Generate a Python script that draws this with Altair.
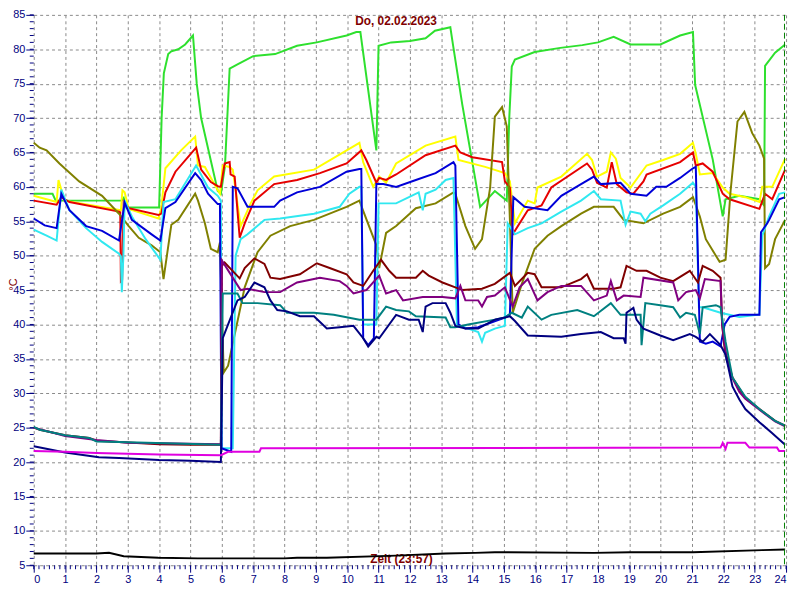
import altair as alt
import pandas as pd

# ---------------- data (hour, °C) ----------------
green = [(0, 59), (0.6, 59), (0.7, 58), (2.8, 58), (2.87, 58.4), (2.95, 57), (4.0, 57), (4.08, 70),
         (4.15, 76.5), (4.29, 79.3), (4.39, 79.7), (4.61, 80), (4.83, 80.7), (5.08, 82), (5.2, 75),
         (5.34, 70), (5.87, 59.4), (5.97, 59), (6.1, 63), (6.25, 77.2), (6.5, 77.8), (7.0, 79),
         (7.7, 79.3), (8.4, 80.5), (9.03, 81), (9.98, 82), (10.29, 82.5), (10.42, 82.5), (10.93, 65.3),
         (11.0, 80.5), (11.4, 81), (12.0, 81.2), (12.5, 81.6), (12.8, 82.7), (13.29, 83.2), (13.38, 80.5),
         (13.67, 72), (14.24, 57.1), (14.71, 59.4), (15.09, 58), (15.17, 70), (15.25, 77.5), (15.35, 78.5),
         (15.98, 79.6), (16.8, 80.2), (17.5, 80.6), (18.0, 81), (18.5, 81.8), (19.04, 80.7), (19.99, 80.7),
         (20.62, 82), (21.03, 82.5), (21.1, 74.8), (21.66, 64), (21.98, 55.7), (22.07, 58.2), (22.51, 58.7),
         (23.15, 58.2), (23.3, 57.3), (23.33, 77.6), (23.65, 79.5), (23.97, 80.7)]

yellow = [(0, 58.7), (0.73, 57.8), (0.79, 61), (0.98, 58), (1.5, 57.6), (2.78, 56.6), (2.83, 59.5),
          (2.9, 59.2), (3.03, 56.8), (3.98, 55.4), (4.07, 57), (4.2, 62.7), (4.7, 65.3), (5.15, 67.3),
          (5.24, 63.1), (5.46, 62.9), (5.81, 60), (5.94, 59), (6.03, 63.1), (6.25, 62.9), (6.35, 62.5),
          (6.6, 54.3), (6.92, 57.6), (7.14, 59.5), (7.67, 61.5), (8.94, 62.5), (10.39, 66.4), (10.51, 63.6),
          (10.83, 60), (11.02, 61.5), (11.24, 60.6), (11.56, 63.4), (12.5, 66), (13.45, 67.3), (13.55, 63.9),
          (14.4, 62.9), (15.03, 62), (15.19, 60.8), (15.35, 54.7), (15.76, 58), (15.98, 57.6), (16.07, 59.9),
          (16.83, 61.5), (17.65, 64.8), (17.81, 63.9), (17.97, 61.5), (18.28, 62.2), (18.41, 65), (18.57, 64.1),
          (18.72, 61.3), (19.04, 59.9), (19.55, 63.1), (20.08, 63.9), (20.62, 64.8), (21.03, 66.4),
          (21.12, 64.8), (21.25, 61.8), (21.66, 62), (21.98, 59.9), (22.2, 59), (22.7, 58.5), (23.15, 57.8),
          (23.24, 60), (23.56, 60), (23.97, 64.1)]

red = [(0, 58), (0.73, 57.4), (0.88, 58.5), (1.14, 57.8), (2.72, 56.4), (2.76, 56.3), (2.78, 46.3),
       (2.82, 46.5), (2.87, 57.8), (3.03, 56.9), (3.98, 55.9), (4.07, 56.1), (4.2, 59.2), (4.52, 62.2),
       (5.18, 65.7), (5.34, 62.5), (5.65, 60.7), (5.87, 60.1), (5.97, 60), (6.09, 63.4), (6.25, 63.6),
       (6.28, 61.8), (6.41, 61.5), (6.57, 52.6), (6.73, 54.7), (7.04, 58), (7.67, 60.4), (8.4, 61),
       (9.13, 62), (9.98, 63.4), (10.45, 65.3), (10.61, 63.9), (10.93, 60.6), (11.02, 61.3), (11.24, 61),
       (11.56, 61.8), (12.5, 64.6), (13.45, 66), (13.61, 65), (13.99, 64.3), (14.94, 63.6), (15.03, 60.8),
       (15.19, 59.9), (15.28, 53.1), (15.76, 56.6), (16.2, 57.3), (16.51, 59.9), (17.65, 63.4), (17.81, 62.5),
       (17.97, 60.6), (18.28, 59.9), (18.44, 63.6), (18.6, 60.4), (18.91, 59.2), (19.13, 59), (19.45, 60.8),
       (19.55, 61.8), (20.62, 63.6), (21.03, 65), (21.12, 63.1), (21.34, 63.4), (21.66, 62.2), (21.98, 59),
       (22.2, 58.2), (23.15, 56.8), (23.33, 59), (23.56, 58.2), (23.97, 62.5)]

olive = [(0, 66.4), (0.19, 65.7), (0.41, 65.3), (0.82, 63.4), (1.45, 60.8), (2.18, 58.7), (2.72, 56.1),
         (3.03, 54.3), (3.35, 52.6), (3.76, 51.5), (4.04, 50.5), (4.14, 46.6), (4.39, 54.5), (4.61, 55.2),
         (5.15, 59), (5.24, 58), (5.46, 54.7), (5.65, 51), (5.87, 50.5), (5.94, 51.9), (6.06, 33), (6.2, 34),
         (6.73, 45.4), (7.14, 50.5), (7.55, 52.9), (8.18, 54.3), (8.94, 55.2), (9.98, 57.1), (10.39, 58),
         (10.51, 56.5), (10.93, 51.5), (11.02, 48.2), (11.24, 53.3), (11.56, 54.3), (12.19, 56.9),
         (12.82, 57.6), (13.39, 59.2), (13.45, 59), (13.77, 54.3), (14.08, 51), (14.3, 52.4), (14.56, 59.9),
         (14.71, 70.2), (14.94, 71.6), (15.09, 68.8), (15.19, 55.2), (15.28, 41.7), (15.57, 45.9),
         (15.98, 51), (16.39, 52.9), (16.83, 54.3), (17.46, 56.1), (17.87, 57.1), (18.5, 57.1), (18.82, 55.2),
         (19.45, 54.7), (20.08, 56.1), (20.62, 57.1), (21.03, 58.5), (21.25, 55.7), (21.44, 52.4),
         (21.88, 49.1), (22.07, 49.4), (22.23, 59.4), (22.45, 69.5), (22.67, 70.9), (22.92, 67.8),
         (23.15, 66), (23.3, 64.1), (23.33, 48.2), (23.46, 48.8), (23.65, 52.4), (23.97, 55.2)]

cyan = [(0, 53.8), (0.41, 52.9), (0.73, 52.2), (0.88, 59.6), (1.14, 56.6), (1.67, 54), (2.18, 52),
        (2.72, 50.3), (2.78, 49.9), (2.81, 44.7), (2.86, 50), (2.9, 58), (3.13, 55.7), (3.57, 52.4),
        (4.04, 49.4), (4.14, 57.8), (4.52, 58.2), (5.18, 63.1), (5.56, 59.9), (5.87, 58.7), (5.97, 58),
        (6.0, 22), (6.35, 22), (6.44, 50), (6.6, 52.4), (6.82, 53.1), (7.36, 55.2), (7.86, 55.4), (8.94, 56.1),
        (9.76, 57.1), (10.07, 59), (10.39, 60), (10.45, 60), (10.51, 40), (10.93, 40), (11.0, 57.6),
        (11.56, 57.6), (11.97, 58.5), (12.28, 59.2), (12.41, 56.6), (12.5, 59), (12.82, 59.6), (13.14, 61),
        (13.39, 61.3), (13.5, 40), (13.61, 39.8), (14.18, 38.9), (14.3, 37.5), (14.4, 38.8), (14.71, 39.4),
        (15.03, 39.8), (15.12, 54.7), (15.35, 53.1), (15.76, 54), (16.2, 54.7), (16.83, 56.4), (17.46, 58),
        (17.87, 59.4), (18.09, 58.2), (18.72, 58), (18.88, 54.5), (19.04, 56.4), (19.36, 56.1), (19.51, 55),
        (19.67, 56.1), (20.08, 57.3), (20.62, 59), (21.03, 60.6), (21.12, 60), (21.22, 42.5), (21.34, 42.5),
        (21.91, 41.7), (22.51, 41.1), (23.08, 41.4), (23.15, 41.4), (23.24, 52.9), (23.46, 55.7),
        (23.78, 59), (23.97, 59.2)]

blue = [(0, 55.4), (0.35, 54.4), (0.73, 54), (0.88, 59), (1.14, 56.6), (1.67, 54.3), (2.18, 53.6),
        (2.72, 52.2), (2.9, 57.7), (3.13, 55.2), (3.76, 53.1), (4.04, 52.2), (4.2, 56.9), (4.52, 57.8),
        (5.15, 62), (5.34, 61), (5.56, 59), (5.87, 57.5), (5.94, 57.5), (5.99, 22), (6.3, 21.5), (6.35, 60),
        (6.5, 59.8), (6.82, 57.1), (7.67, 57.1), (7.86, 58), (8.4, 59.2), (9.13, 60), (9.98, 62.2),
        (10.39, 62.6), (10.45, 62.6), (10.51, 38), (10.67, 37), (10.85, 38), (10.93, 60.4), (11.15, 60.4),
        (11.56, 60), (12.19, 61), (12.82, 62), (13.39, 63.6), (13.45, 63.1), (13.55, 40), (13.77, 39.4),
        (14.18, 39.6), (15.03, 41), (15.19, 41.5), (15.3, 58.5), (15.66, 57.1), (16.39, 56.6), (16.83, 58.7),
        (17.46, 60.4), (17.87, 61.5), (18.09, 60.4), (18.72, 60.6), (19.04, 59), (19.55, 58.7), (19.86, 60),
        (20.18, 60), (20.62, 61.3), (21.03, 62.7), (21.12, 62.9), (21.25, 37.5), (21.44, 37.2),
        (21.66, 37.5), (21.91, 36.8), (22.04, 40), (22.2, 41.1), (22.51, 41.4), (23.15, 41.4), (23.2, 53.4),
        (23.4, 54.7), (23.46, 55.2), (23.78, 58.2), (23.97, 58.5)]

maroon = [(0, 25), (0.19, 24.7), (1.0, 23.9), (1.77, 23.5), (2.0, 23.1), (2.72, 22.9), (4.0, 22.6),
          (5.0, 22.5), (5.97, 22.5), (6.0, 48.5), (6.09, 49), (6.57, 46.7), (6.73, 48.2), (7.04, 49.6),
          (7.36, 48.8), (7.55, 46.8), (7.86, 46.6), (8.49, 47.3), (9.03, 48.9), (9.44, 48.2), (9.98, 47.3),
          (10.2, 46.1), (10.51, 45.6), (10.83, 47.8), (11.08, 49.4), (11.34, 47.8), (11.56, 46.8),
          (12.19, 46.8), (12.41, 47.8), (12.6, 47.1), (13.04, 46.1), (13.45, 45.4), (13.67, 45), (14.3, 45.2),
          (14.71, 45.9), (15.19, 47.5), (15.35, 45.6), (15.76, 47.5), (15.98, 47.3), (16.2, 45.4),
          (16.83, 45.4), (17.46, 46.6), (17.65, 47.3), (17.87, 45.2), (18.5, 45.2), (18.72, 45.4),
          (18.91, 48.5), (19.23, 47.8), (19.55, 47.8), (19.99, 46.8), (20.4, 46.3), (20.93, 47.8),
          (21.19, 46.1), (21.34, 48.5), (21.66, 47.8), (21.91, 46.8), (21.96, 40), (22.04, 36.5),
          (22.29, 32.3), (22.7, 29.3), (23.15, 27.7), (23.65, 26), (23.97, 25.3)]

purple = [(0, 25), (1.0, 23.8), (2.0, 23.2), (3.0, 22.8), (5.97, 22.6), (6.0, 49.3), (6.6, 45),
          (6.82, 45.2), (7.36, 44.7), (7.86, 44.7), (8.4, 46.1), (9.13, 46.8), (9.76, 46.3), (9.98, 45.6),
          (10.2, 44.5), (10.61, 45), (11.02, 47.1), (11.24, 44.5), (11.56, 45), (11.78, 43.5), (12.41, 44),
          (13.04, 44), (13.45, 43.8), (13.61, 45.6), (13.77, 43.5), (14.18, 43.5), (14.3, 42.6), (14.46, 44),
          (14.71, 44.2), (15.03, 45.4), (15.28, 42.6), (15.5, 45.4), (15.76, 46.6), (16.07, 43.5),
          (16.39, 44.7), (16.83, 45.6), (17.46, 45.6), (17.87, 43.5), (18.28, 44.2), (18.41, 46.3),
          (18.6, 43.5), (18.82, 44.2), (19.36, 44), (19.45, 46.8), (20.4, 46.1), (20.56, 43.5), (20.81, 44.7),
          (21.12, 45), (21.25, 43.8), (21.41, 46.6), (21.91, 46.3), (21.96, 40), (22.04, 37.2), (22.1, 35),
          (22.29, 32.2), (22.51, 30.2), (22.7, 29.2), (23.15, 27.6), (23.65, 25.9), (23.97, 25.2)]

teal = [(0, 25.1), (0.19, 24.7), (1.0, 23.9), (1.77, 23.5), (2.0, 23), (2.72, 22.9), (5.97, 22.5),
        (6.03, 44.5), (6.5, 44.5), (6.66, 43.1), (7.14, 43.1), (7.86, 42.8), (8.08, 41.7), (8.94, 41.7),
        (9.57, 41.4), (10.39, 40.7), (10.93, 40.7), (11.24, 42.6), (11.56, 42.1), (11.97, 41.9),
        (12.19, 41.2), (13.14, 41), (13.29, 39.6), (13.45, 39.6), (13.86, 40), (14.71, 40.7), (15.03, 41),
        (15.25, 41.7), (15.57, 41), (15.76, 42.6), (16.2, 40.7), (16.51, 41.4), (17.34, 42.1), (17.87, 41.2),
        (18.41, 43.1), (18.72, 41.4), (19.36, 41.4), (19.39, 37), (19.51, 43.1), (19.99, 42.8), (20.4, 42.5),
        (20.62, 41), (20.81, 41.7), (21.09, 41.4), (21.25, 38.6), (21.34, 42.5), (21.76, 42.8),
        (21.91, 42.5), (22.07, 37.5), (22.29, 32.3), (22.7, 29.5), (23.15, 27.7), (23.65, 26), (23.97, 25.3)]

navy = [(0, 22.3), (1.0, 21.4), (2.08, 20.7), (2.72, 20.6), (4.0, 20.3), (5.0, 20.2), (5.97, 20),
        (6.03, 38), (6.2, 40), (6.5, 43.5), (6.73, 44), (7.04, 46.1), (7.36, 45.4), (7.55, 43.5), (7.77, 42.1),
        (8.08, 41.9), (8.49, 41.2), (8.94, 41.2), (9.35, 39.4), (9.76, 39.6), (10.2, 39.8), (10.51, 38),
        (10.67, 36.8), (10.93, 38.2), (11.02, 38), (11.56, 41.4), (11.97, 40.7), (12.28, 40.7),
        (12.41, 38.9), (12.5, 42.6), (12.72, 43.1), (13.14, 43.1), (13.29, 41.7), (13.45, 39.8),
        (13.77, 39.4), (14.18, 39.4), (14.71, 40.7), (15.03, 41), (15.19, 41.2), (15.35, 40.5),
        (15.76, 38.4), (16.83, 38.2), (17.46, 38.6), (18.09, 38.9), (18.5, 38), (18.82, 38), (18.88, 37.2),
        (18.91, 41.7), (19.13, 42.4), (19.23, 40.7), (19.45, 39.4), (19.99, 38.4), (20.4, 37.7),
        (20.93, 38.6), (21.12, 38.2), (21.34, 37.5), (21.57, 38.6), (21.91, 37), (22.07, 35.6), (22.29, 31),
        (22.51, 29.1), (22.7, 27.7), (23.15, 25.8), (23.56, 24.2), (23.97, 22.5)]

magenta = [(0, 21.6), (1.0, 21.5), (2.0, 21.3), (3.0, 21.2), (4.0, 21.1), (5.97, 21), (6.2, 21.5),
           (7.2, 21.5), (7.25, 22), (21.91, 22.1), (21.98, 22.8), (22.07, 21.9), (22.13, 22.8), (22.7, 22.8),
           (22.83, 22.1), (23.71, 22.1), (23.78, 21.6), (23.97, 21.6)]

black = [(0, 6.7), (2.0, 6.7), (2.4, 6.8), (2.87, 6.3), (3.98, 6.1), (5.24, 6), (8.0, 6), (8.4, 6.1),
         (9.35, 6.1), (11.56, 6.4), (13.14, 6.7), (14.08, 6.8), (14.71, 6.9), (17.87, 6.8), (19.04, 6.9),
         (21.03, 6.9), (23.24, 7.2), (23.97, 7.3)]

series_names = ["s01", "s02", "s03", "s04", "s05", "s06", "s07", "s08", "s09", "s10", "s11", "s12"]
series_data = [green, yellow, red, olive, cyan, blue, maroon, purple, teal, navy, magenta, black]
series_colors = ["#2ee02e", "#ffff00", "#e60000", "#808000", "#30e8f0", "#0000d8",
                 "#800000", "#800080", "#008080", "#000080", "#e000e0", "#000000"]

chart_title = "Do, 02.02.2023"
x_title = "Zeit (23:57)"
y_title = "°C"
x_ticks = list(range(0, 25))
y_ticks = list(range(5, 90, 5))
y_minor = list(range(5, 86))
x_minor = [i / 6 for i in range(0, 145)]
cursor_time = [23.95]

rows = []
for name, pts in zip(series_names, series_data):
    for t, v in pts:
        rows.append({"s": name, "t": t, "v": v})
df = pd.DataFrame(rows)

W, H = 760, 556
font = "Liberation Sans"
xs = alt.Scale(domain=[0, 24], nice=False, zero=False)
ys = alt.Scale(domain=[5, 85], nice=False, zero=False)

x_axis = alt.Axis(
    values=x_ticks, format="d", labelAngle=0, tickSize=7, tickColor="#000080",
    labelColor="#000080", labelFont=font, labelFontSize=11, labelPadding=1,
    domain=False, grid=True, gridColor="#8a8a8a", gridDash=[3, 3], gridWidth=1,
    title=x_title, titleColor="#800000", titleFont=font, titleFontSize=12,
    titleFontWeight="bold", titleX=371, titleY=-7, titleBaseline="middle", titleAlign="center")
y_axis = alt.Axis(
    values=y_ticks, format="d", tickSize=8, tickColor="#000080",
    labelColor="#000080", labelFont=font, labelFontSize=11, labelPadding=1,
    domain=False, grid=True, gridColor="#8a8a8a", gridDash=[3, 3], gridWidth=1,
    title=y_title, titleColor="#800000", titleFont=font, titleFontSize=11,
    titleFontWeight="normal", titleX=-20, titleY=272, titleBaseline="middle", titleAlign="center")

X = alt.X("t:Q", scale=xs, axis=x_axis)
Y = alt.Y("v:Q", scale=ys, axis=y_axis)

lines = alt.Chart(df).mark_line(strokeWidth=2, interpolate="linear").encode(
    x=X, y=Y,
    color=alt.Color("s:N", scale=alt.Scale(domain=series_names, range=series_colors), legend=None),
    order=alt.Order("t:Q"),
)

ymin = alt.Chart(pd.DataFrame({"v": y_minor})).mark_rule(color="#000080", strokeWidth=1).encode(
    y=Y, x=alt.value(-4), x2=alt.value(0))

xmin = alt.Chart(pd.DataFrame({"t": x_minor})).mark_rule(color="#000080", strokeWidth=1).encode(
    x=X, y=alt.value(H), y2=alt.value(H + 4))

cursor = alt.Chart(pd.DataFrame({"t": cursor_time})).mark_rule(
    color="#008000", strokeWidth=1, strokeDash=[6, 3]).encode(x=X)

title = alt.Chart(pd.DataFrame({"label": [chart_title]})).mark_text(
    color="#800000", font=font, fontSize=12, fontWeight="bold", align="center", baseline="middle").encode(
    text="label:N", x=alt.value(366), y=alt.value(6))

chart = alt.layer(lines, ymin, xmin, cursor, title).properties(
    width=W, height=H,
    autosize=alt.AutoSizeParams(type="none"),
    padding={"left": 26, "top": 4, "right": 6, "bottom": 16},
    background="white",
).configure_view(stroke=None)

chart.save("out.html", embed_options={"renderer": "svg", "actions": False})
